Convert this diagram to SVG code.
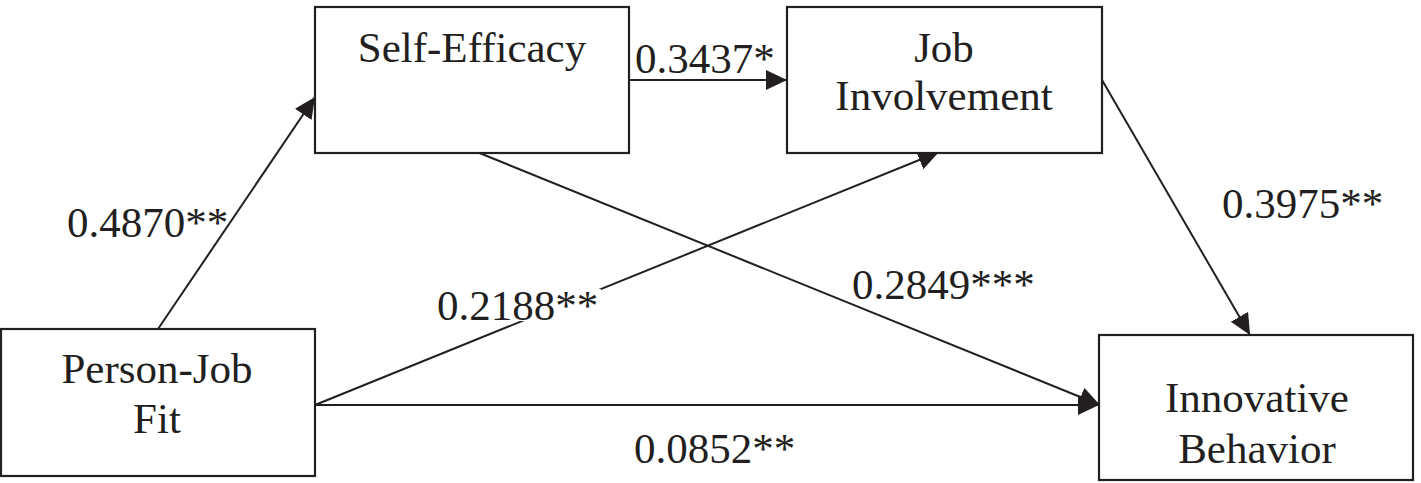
<svg xmlns="http://www.w3.org/2000/svg" width="1421" height="483" viewBox="0 0 1421 483">
<style>
  .box { fill: #ffffff; stroke: #231f20; stroke-width: 2.2; }
  .t { font-size: 43px; fill: #231f20; }
  .c { text-anchor: middle; }
  .edge { stroke: #231f20; stroke-width: 2; fill: none; marker-end: url(#arrow); }
</style>
<defs>
  <marker id="arrow" markerUnits="userSpaceOnUse" markerWidth="22" markerHeight="22" refX="21" refY="10" orient="auto">
    <path d="M0,0 L21,10 L0,20 Z" fill="#231f20"/>
  </marker>
</defs>
<rect width="1421" height="483" fill="#ffffff"/>
<g id="connectors">
  <line class="edge" x1="158" y1="329" x2="315" y2="97"/>
  <line class="edge" x1="629" y1="80" x2="787" y2="80"/>
  <line class="edge" x1="1102" y1="80" x2="1250" y2="335"/>
  <line class="edge" x1="477" y1="152" x2="1100" y2="405"/>
  <line class="edge" x1="315" y1="405" x2="939" y2="152"/>
  <line class="edge" x1="315" y1="405" x2="1099" y2="405"/>
</g>
<g id="labels" font-family="'Liberation Serif', 'DejaVu Serif', serif">
  <text class="t" x="67" y="237">0.4870**</text>
  <text class="t" x="635" y="73">0.3437*</text>
  <text class="t" x="1222" y="218">0.3975**</text>
  <rect x="435" y="289" width="166" height="32" fill="#ffffff"/>
  <text class="t" x="437" y="320">0.2188**</text>
  <text class="t" x="852" y="299">0.2849***</text>
  <text class="t" x="634" y="463">0.0852**</text>
</g>
<g id="self-efficacy" font-family="'Liberation Serif', 'DejaVu Serif', serif">
  <rect class="box" x="315" y="7" width="314" height="146"/>
  <text class="t c" x="472" y="62">Self-Efficacy</text>
</g>
<g id="job-involvement" font-family="'Liberation Serif', 'DejaVu Serif', serif">
  <rect class="box" x="787" y="7" width="315" height="146"/>
  <text class="t c" x="944" y="62">Job</text>
  <text class="t c" x="944" y="110">Involvement</text>
</g>
<g id="person-job-fit" font-family="'Liberation Serif', 'DejaVu Serif', serif">
  <rect class="box" x="1" y="329" width="314" height="147"/>
  <text class="t c" x="157" y="383">Person-Job</text>
  <text class="t c" x="157" y="433">Fit</text>
</g>
<g id="innovative-behavior" font-family="'Liberation Serif', 'DejaVu Serif', serif">
  <rect class="box" x="1099" y="335" width="314" height="145"/>
  <text class="t c" x="1257" y="412">Innovative</text>
  <text class="t c" x="1257" y="463">Behavior</text>
</g>
</svg>
